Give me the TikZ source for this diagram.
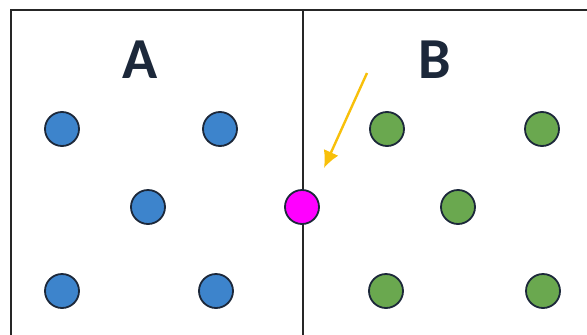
\documentclass[tikz,border=0pt]{standalone}
\usepackage{fontspec}
\setmainfont{Carlito}
\usetikzlibrary{arrows.meta}
\definecolor{dotblue}{RGB}{61,132,204}
\definecolor{dotgreen}{RGB}{106,168,79}
\definecolor{dotmagenta}{RGB}{255,0,255}
\definecolor{rim}{RGB}{28,40,58}
\definecolor{pointer}{RGB}{248,192,10}
\tikzset{
  dot/.style={circle, draw=rim, line width=1.8pt, minimum size=34pt, inner sep=0pt},
  bluedot/.style={dot, fill=dotblue},
  greendot/.style={dot, fill=dotgreen},
  label/.style={font=\bfseries\fontsize{58}{60}\selectfont, text=rim, inner sep=0pt},
}
\begin{document}
\begin{tikzpicture}[x=1pt, y=-1pt]
  \useasboundingbox (0,0) rectangle (587,335);
  \fill[white] (0,0) rectangle (587,335);
  \begin{scope}
    \clip (0,0) rectangle (587,335);
    % outer frame and divider
    \draw[line width=2.2pt, black!85] (11,10) rectangle (600,350);
    \draw[line width=1.5pt, black!85] (303,10) -- (303,350);
  \end{scope}
  % region labels
  \node[label] (A) at (140,60) {A};
  \node[label] (B) at (435,60) {B};
  % region A points
  \node[bluedot] (a1) at (62,129) {};
  \node[bluedot] (a2) at (220,129) {};
  \node[bluedot] (a3) at (148,207) {};
  \node[bluedot] (a4) at (62,291) {};
  \node[bluedot] (a5) at (216,291) {};
  % region B points
  \node[greendot] (b1) at (387,129) {};
  \node[greendot] (b2) at (542,129) {};
  \node[greendot] (b3) at (458,207) {};
  \node[greendot] (b4) at (386,291) {};
  \node[greendot] (b5) at (543,291) {};
  % point on the boundary
  \node[dot, fill=dotmagenta] (m) at (302,207) {};
  % pointer arrow
  \coordinate (ptail) at (367,73);
  \coordinate (phead) at (324,168);
  \draw[pointer, line width=2.4pt, -{Latex[length=17pt,width=16pt]}] (ptail) -- (phead);
\end{tikzpicture}
\end{document}
